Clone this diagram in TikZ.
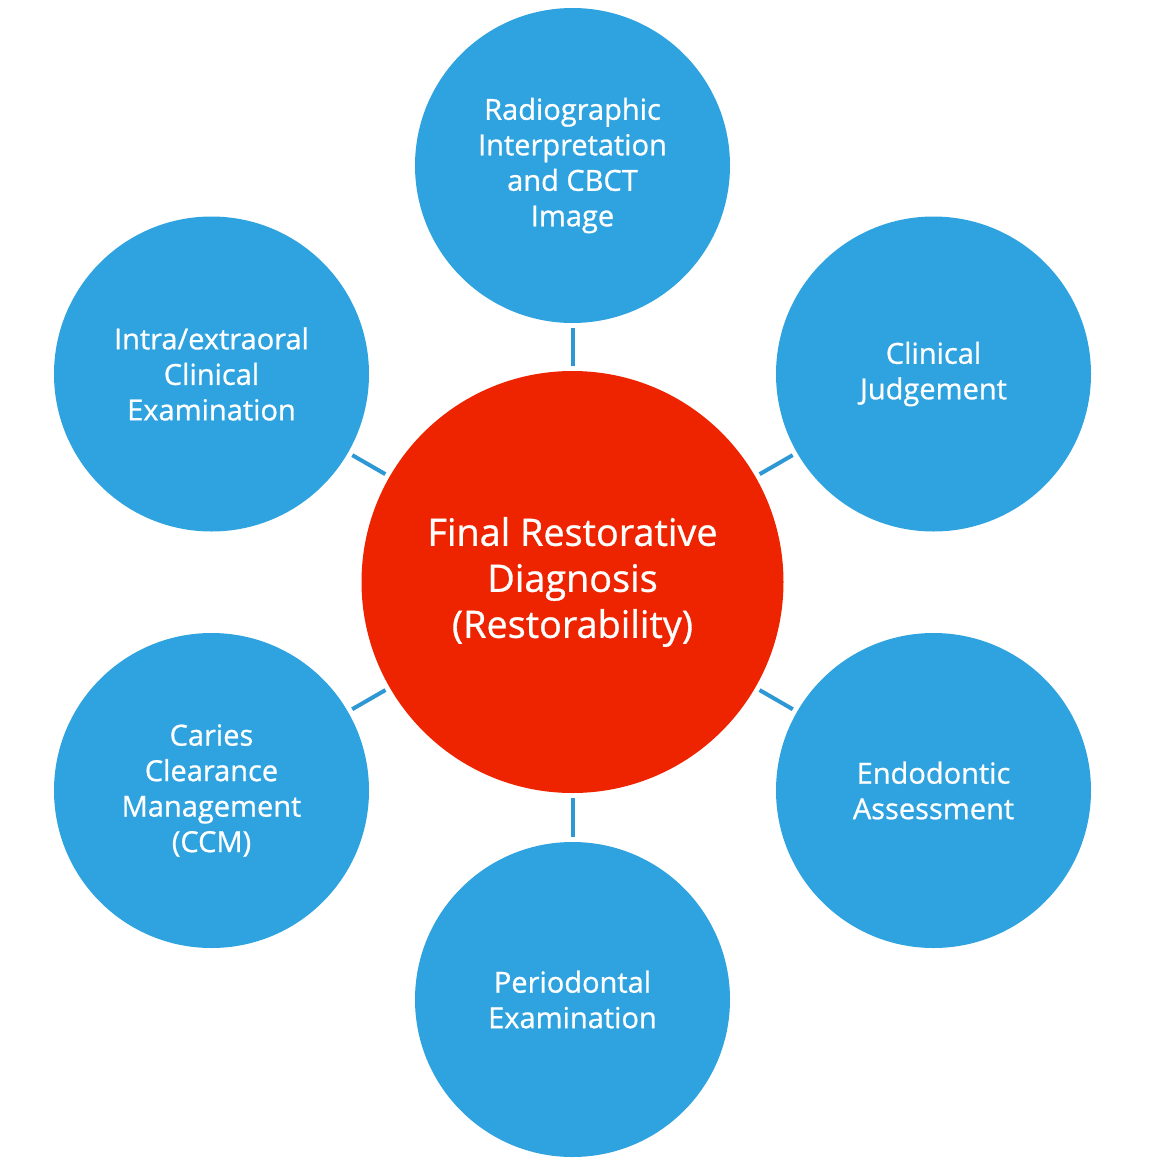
\documentclass[tikz,border=0pt]{standalone}
\usepackage{fontspec}
\setmainfont{Open Sans}[FakeBold=0.8]
\definecolor{bubble}{RGB}{47,163,223}
\definecolor{core}{RGB}{238,36,0}
\definecolor{link}{RGB}{46,152,212}
\tikzset{
  bluebub/.style={circle, fill=bubble, draw=none, minimum size=315pt, inner sep=0pt, outer sep=0pt,
    text=white, align=center, font=\fontsize{29}{35.5}\selectfont},
  redbub/.style={circle, fill=core, draw=none, minimum size=422pt, inner sep=0pt, outer sep=0pt,
    text=white, align=center, font=\fontsize{37.8}{46}\selectfont},
  linkline/.style={draw=link, line width=4pt, shorten <=5pt, shorten >=5pt}
}
\begin{document}
\begin{tikzpicture}[x=1pt,y=-1pt]
\useasboundingbox (0,0) rectangle (1149,1168);
\node[redbub] (c) at (572.5,582) {Final Restorative\\Diagnosis\\(Restorability)};
\node[bluebub] (t) at (572.5,165.5) {Radiographic\\Interpretation\\and CBCT\\Image};
\node[bluebub] (ur) at (933.5,374) {Clinical\\Judgement};
\node[bluebub] (lr) at (933.5,790.5) {Endodontic\\Assessment};
\node[bluebub] (b) at (572.5,999.5) {Periodontal\\Examination};
\node[bluebub] (ll) at (211.5,790.5) {Caries\\Clearance\\Management\\(CCM)};
\node[bluebub] (ul) at (211.5,374) {Intra/extraoral\\Clinical\\Examination};
\foreach \n in {t,ur,lr,b,ll,ul}
  \draw[linkline] (c) -- (\n);
\end{tikzpicture}
\end{document}
